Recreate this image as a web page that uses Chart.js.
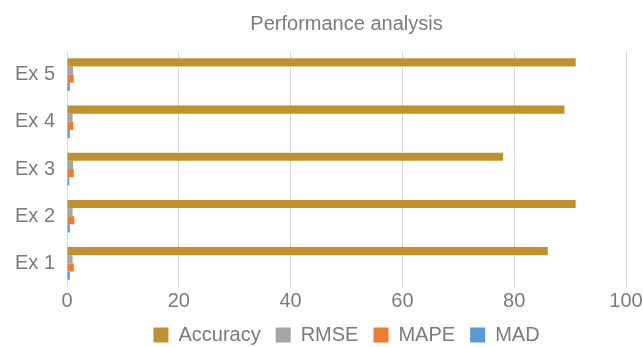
<!DOCTYPE html>
<html>
<head>
<meta charset="utf-8">
<script src="https://cdn.jsdelivr.net/npm/chart.js@4"></script>
<style>
  html, body { margin: 0; padding: 0; background: #fff; }
  #wrap { width: 643px; height: 347px; }
</style>
</head>
<body>
<div id="wrap"><canvas id="chart_perf"></canvas></div>
<script>
// top to bottom as drawn
const categories = ['Ex 5', 'Ex 4', 'Ex 3', 'Ex 2', 'Ex 1'];
const accuracy = [91, 89, 78, 91, 86];
const rmse = [1.1, 1.0, 1.1, 1.0, 1.0];
const mape = [1.2, 1.1, 1.2, 1.3, 1.2];
const mad = [0.5, 0.5, 0.4, 0.5, 0.5];
const xTicks = [0, 20, 40, 60, 80, 100];

const grey = '#7b7b7b';
const font = 'Liberation Sans, Arial, Helvetica, sans-serif';

window.onload = function() {
  const ctx = document.getElementById('chart_perf').getContext('2d');
  new Chart(ctx, {
    type: 'bar',
    data: {
      labels: categories,
      datasets: [
        { label: 'Accuracy', data: accuracy, backgroundColor: '#BF9230' },
        { label: 'RMSE', data: rmse, backgroundColor: '#A5A5A5' },
        { label: 'MAPE', data: mape, backgroundColor: '#ED7D31' },
        { label: 'MAD', data: mad, backgroundColor: '#5B9BD5' }
      ]
    },
    options: {
      indexAxis: 'y',
      responsive: true,
      maintainAspectRatio: false,
      animation: false,
      categoryPercentage: 0.69,
      barPercentage: 1.0,
      layout: { padding: { left: 3, right: 17, top: 0, bottom: -8 } },
      scales: {
        x: {
          min: 0,
          max: 100,
          afterBuildTicks: function(axis) {
            axis.ticks = xTicks.map(function(v) { return { value: v }; });
          },
          afterFit: function(axis) {
            axis.height = 23;
            axis.paddingRight = 0;
          },
          grid: { color: '#d9d9d9', lineWidth: 1, drawTicks: false },
          border: { display: false },
          ticks: { color: grey, padding: 5, font: { family: font, size: 20, lineHeight: 0.9 } }
        },
        y: {
          grid: { display: false, drawTicks: false },
          border: { display: false },
          ticks: { color: grey, padding: 12, font: { family: font, size: 20 } }
        }
      },
      plugins: {
        title: {
          display: true,
          text: 'Performance analysis',
          fullSize: false,
          color: grey,
          font: { family: font, size: 20, weight: 'normal' },
          padding: { top: 12, bottom: 15 }
        },
        legend: {
          position: 'bottom',
          fullSize: false,
          labels: {
            boxWidth: 15,
            boxHeight: 15,
            padding: 15,
            color: grey,
            font: { family: font, size: 20 }
          }
        },
        tooltip: { enabled: false }
      }
    }
  });
};
</script>
</body>
</html>
